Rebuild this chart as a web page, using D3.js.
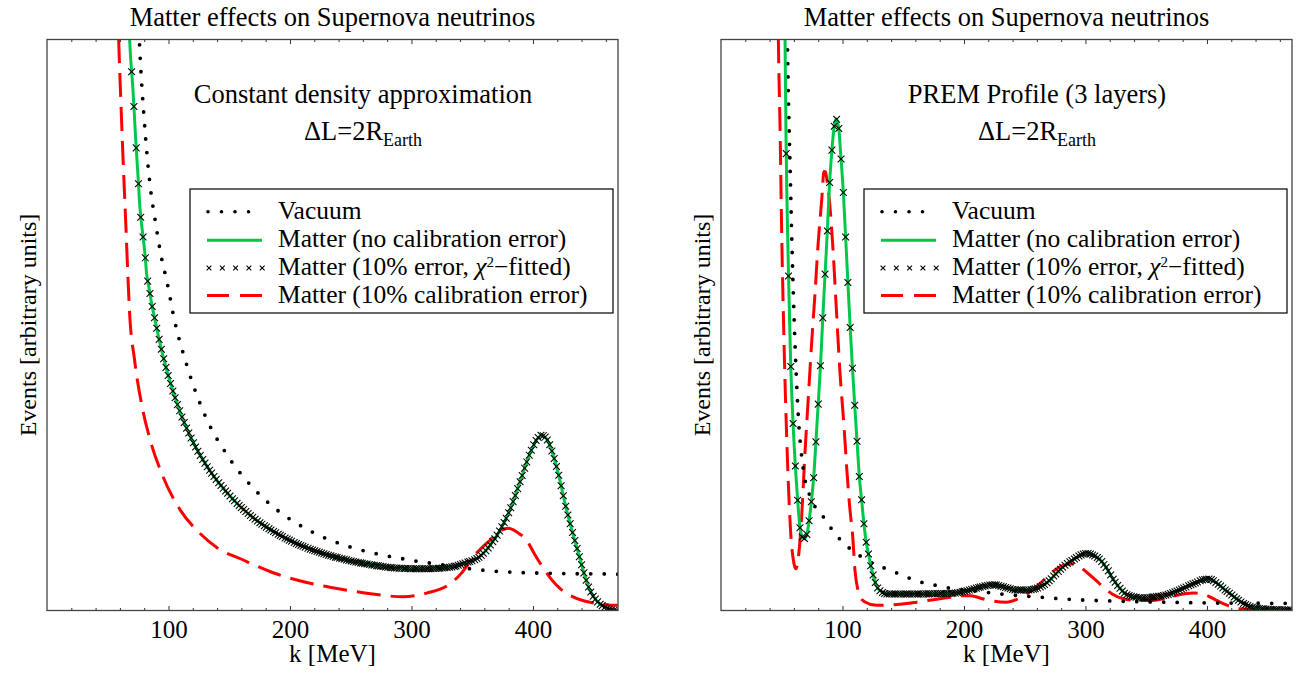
<!DOCTYPE html>
<html lang="en">
<head>
<meta charset="utf-8">
<title>Matter effects on Supernova neutrinos</title>
<script src="https://cdn.jsdelivr.net/npm/d3@7"></script>
<style>
  body { margin: 0; background: #fff; }
  svg text { font-family: "Liberation Serif", "Times New Roman", serif; fill: #000; }
</style>
</head>
<body>
<div id="chart"></div>
<script>
// values: [k in MeV, events in arbitrary units]
const titleText = "Matter effects on Supernova neutrinos";
const xLabel = "k [MeV]";
const yLabel = "Events [arbitrary units]";
const kTicks = [100, 200, 300, 400];
const kMinorTicks = [20, 40, 60, 80, 120, 140, 160, 180, 220, 240, 260, 280, 320, 340, 360, 380, 420, 440, 460];
const legendNames = ["Vacuum", "Matter (no calibration error)", "Matter (10% error, \u03c7\u00b2\u2212fitted)", "Matter (10% calibration error)"];

const leftVacuum = [[73,118],[76,100],[80,86],[85,74.2],[89,68.4],[93.5,62.6],[99.6,56.7],[104,51.8],[115,43],[130,34.2],[150,26.7],[170,21.4],[190,17.5],[210,14.7],[230,12.6],[250,11.1],[270,10],[297,8.9],[308,8.5],[319,8.2],[329,7.9],[345,7.4],[362,7],[384,6.7],[406,6.55],[428,6.45],[459,6.4],[470,6.35]];
const leftMatter = [[64,125],[66,112],[68,100],[70.9,90.7],[73,82.5],[75,75.8],[76.5,70.5],[78.7,66.1],[80.7,62.3],[82,59],[84,56.5],[86,53.9],[88,51.8],[95,45],[100,41],[110,34.5],[120,29.6],[135,24.2],[150,20.2],[170,16.2],[190,13.4],[210,11.3],[230,9.8],[250,8.7],[270,7.9],[290,7.4],[310,7.3],[332,7.6],[345,8.4],[356,9.4],[365,11.5],[373,14.1],[381,17.6],[389,22.3],[397.5,27.5],[403,29.9],[407,30.7],[412,29.8],[419.5,25.1],[427.8,17.5],[436,11.1],[447,3.5],[452,1.8],[460,0.5],[467,0],[470,0]];
const leftCalib = [[57.5,112],[59,100],[61,88],[63,77],[65,67],[66.5,59],[68,52.1],[72,44],[78,36],[85,29.8],[95,23.7],[110,17.5],[125,13.7],[140,11],[162,8.8],[185,6.7],[212,5],[240,3.8],[268,2.9],[293,2.4],[312.5,3.05],[332,4.7],[341,6.5],[350.6,9.35],[358,11],[364.6,12.3],[372,13.8],[379.7,14.4],[387,13.7],[394.8,12.3],[401,10],[408,7.6],[415,5.5],[422,3.9],[431,2.6],[441,1.75],[448,1.4],[458,1.1],[466,0.9],[470,0.9]];

const rightVacuum = [[54,110],[54.6,100.4],[56.8,78.2],[59,59.4],[60.9,46.8],[63.6,34.2],[67.7,24.8],[73.3,20],[83,16.8],[93.8,13.5],[103.5,11.3],[110.3,10.2],[120,8.8],[130,7.8],[139,7.1],[148.7,6.2],[160,5.3],[169,4.7],[180,4.3],[191,3.8],[202,3.6],[230,2.9],[265,2.3],[287,1.95],[309,1.75],[353,1.5],[417,1.3],[470,1.25]];
const rightMatter = [[51.8,115],[52.7,100.4],[53.5,83.2],[55.4,60.3],[57.3,43.7],[59.5,32],[61.7,23.6],[63.6,17.9],[65,14.5],[66.6,13],[68.3,12.6],[70.5,13.2],[72.7,16],[74.6,19.5],[76.5,23.9],[78.2,29.8],[80,36.1],[82,43.3],[83.7,50.9],[85.6,58.7],[87.5,66.3],[89.1,73.8],[91.1,80.1],[93,84.5],[94.7,86.1],[96.9,84.5],[98.5,80],[100.7,73.2],[102.6,65.3],[104.5,57.2],[106.4,49.3],[108.4,41.8],[110.3,35.2],[112.2,28.9],[113.8,23.6],[116,18.8],[117.7,15.1],[119.5,12],[121.5,9.8],[123.5,7.6],[125.5,6],[128,4.3],[132,3.3],[137,2.9],[160,2.9],[190,3],[205,3.6],[215,4.2],[224,4.5],[235,4],[243,3.6],[252,3.6],[260,3.9],[268,4.8],[276,6.5],[283,7.9],[290,8.9],[295,9.6],[301,10],[307,9.6],[312,8.9],[318,7.2],[323,5.4],[328,4],[334,2.75],[347.6,2.2],[357,2.4],[366.8,2.75],[380.5,3.9],[390,4.8],[397,5.4],[402,5.5],[408,4.8],[415,3.6],[421.7,2.5],[428,1.5],[435.4,0.7],[442,0.4],[449,0.25],[460,0.12],[470,0.1]];
const rightCalib = [[46.6,112],[47.2,100.4],[48.6,84.5],[50,65.6],[51.9,46.8],[54.6,27],[57.4,13.5],[60,8.3],[61.7,7.3],[63.5,9],[66.4,16.5],[69.1,27.5],[71.9,37.4],[74.6,46.8],[77.4,55.6],[80,64.4],[82.9,71.9],[84.8,76.9],[86,76.8],[87,75.7],[89.7,70.7],[92.4,62.5],[95.2,51.8],[97.9,41.8],[101.2,32.4],[103.8,24],[106,18],[108.4,13],[110.3,7],[112.5,3.8],[115,2.2],[118.5,1.5],[128,0.9],[145,1.05],[161,1.46],[175,1.9],[188.5,2.3],[198,2.6],[205,2.6],[213,2.2],[221,1.75],[235,1.46],[243,1.9],[251.6,2.9],[262,4.6],[270.8,6.4],[281.7,7.9],[290,8.2],[295,7.7],[301,6.7],[308,5.4],[314.6,4.1],[322,2.9],[331,2.05],[340,1.8],[353,1.75],[365,2.1],[380.5,2.9],[390,3.05],[397,2.9],[404,2.2],[410.7,1.46],[418,0.8],[427,0.3],[440,0.2],[470,0.2]];

const fitStep = 1.88; // spacing of the chi^2-fitted crosses along k

const W = 1296, H = 673;
const frameTop = 39.5, frameBottom = 610.5;
const kDomain = [0, 470];
const yDomain = [0, 100];
const green = "#00c84b", red = "#ff0000";
const serif = '"Liberation Serif", "Times New Roman", serif';

const panels = [
  { left: 47, right: 618, note: "Constant density approximation", noteX: 363, legendX: 190,
    vacuum: leftVacuum, matter: leftMatter, calib: leftCalib },
  { left: 721, right: 1292, note: "PREM Profile (3 layers)", noteX: 1037, legendX: 864,
    vacuum: rightVacuum, matter: rightMatter, calib: rightCalib }
];

const svg = d3.select('#chart')
  .append('svg')
  .attr('width', W)
  .attr('height', H)
  .attr('font-family', serif)
  .style('background-color', 'white');

const crossPath = "M-3.4,-3.4L3.4,3.4M-3.4,3.4L3.4,-3.4";

function crossesOnPath(node, xs) {
  const len = node.getTotalLength();
  const pts = [];
  for (let l = 0; l <= len; l += 0.6) pts.push(node.getPointAtLength(l));
  const bis = d3.bisector(d => d.x).left;
  return xs.map(px => pts[Math.min(bis(pts, px), pts.length - 1)]);
}

panels.forEach((p, i) => {
  const x = d3.scaleLinear().domain(kDomain).range([p.left, p.right]);
  const y = d3.scaleLinear().domain(yDomain).range([frameBottom, frameTop]);
  const g = svg.append('g');

  svg.append('clipPath').attr('id', 'clip' + i)
    .append('rect')
    .attr('x', p.left).attr('y', frameTop)
    .attr('width', p.right - p.left).attr('height', frameBottom - frameTop);

  const line = d3.line()
    .x(d => x(d[0]))
    .y(d => y(d[1]))
    .curve(d3.curveMonotoneX);

  const plot = g.append('g').attr('clip-path', `url(#clip${i})`);

  plot.append('path').datum(p.calib)
    .attr('d', line).attr('fill', 'none')
    .attr('stroke', red).attr('stroke-width', 3)
    .attr('stroke-dasharray', '24,10');

  plot.append('path').datum(p.vacuum)
    .attr('d', line).attr('fill', 'none')
    .attr('stroke', '#000').attr('stroke-width', 3.8)
    .attr('stroke-linecap', 'round')
    .attr('stroke-dasharray', '0,13.5');

  const gPath = plot.append('path').datum(p.matter)
    .attr('d', line).attr('fill', 'none')
    .attr('stroke', green).attr('stroke-width', 3);

  const fitK = d3.range(p.matter[0][0], kDomain[1], fitStep);
  const pts = crossesOnPath(gPath.node(), fitK.map(k => x(k)));
  plot.append('g').selectAll('path')
    .data(pts).enter().append('path')
    .attr('d', crossPath)
    .attr('transform', d => `translate(${d.x},${d.y})`)
    .attr('stroke', '#000').attr('stroke-width', 1.05).attr('fill', 'none');

  // axes: ticks only on the bottom and top edges, pointing inward
  const bottom = g.append('g')
    .attr('transform', `translate(0,${frameBottom})`)
    .call(d3.axisBottom(x).tickValues(kTicks).tickSizeInner(-4.5).tickSizeOuter(0));
  bottom.selectAll('text')
    .attr('y', 27.5).attr('dy', null)
    .attr('font-size', 25).attr('font-family', serif);
  g.append('g')
    .attr('transform', `translate(0,${frameBottom})`)
    .call(d3.axisBottom(x).tickValues(kMinorTicks).tickSizeInner(-2.5).tickSizeOuter(0).tickFormat(''));
  g.append('g')
    .attr('transform', `translate(0,${frameTop})`)
    .call(d3.axisTop(x).tickValues(kTicks).tickSizeInner(-4.5).tickSizeOuter(0).tickFormat(''));
  g.append('g')
    .attr('transform', `translate(0,${frameTop})`)
    .call(d3.axisTop(x).tickValues(kMinorTicks).tickSizeInner(-2.5).tickSizeOuter(0).tickFormat(''));
  g.selectAll('.domain').remove();
  g.selectAll('.tick line').attr('stroke', '#333').attr('stroke-width', 1);

  g.append('rect')
    .attr('x', p.left).attr('y', frameTop)
    .attr('width', p.right - p.left).attr('height', frameBottom - frameTop)
    .attr('fill', 'none').attr('stroke', '#444').attr('stroke-width', 1.3);

  // titles and labels
  g.append('text')
    .attr('x', (p.left + p.right) / 2).attr('y', 26)
    .attr('text-anchor', 'middle').attr('font-size', 26.5)
    .text(titleText);
  g.append('text')
    .attr('x', (p.left + p.right) / 2).attr('y', 662)
    .attr('text-anchor', 'middle').attr('font-size', 25)
    .text(xLabel);
  g.append('text')
    .attr('transform', `translate(${p.left - 11},${(frameTop + frameBottom) / 2}) rotate(-90)`)
    .attr('text-anchor', 'middle').attr('font-size', 24)
    .text(yLabel);

  g.append('text')
    .attr('x', p.noteX).attr('y', 103)
    .attr('text-anchor', 'middle').attr('font-size', 26.5)
    .text(p.note);
  const dl = g.append('text')
    .attr('x', p.noteX).attr('y', 140)
    .attr('text-anchor', 'middle').attr('font-size', 26.5);
  dl.append('tspan').text('\u0394L=2R');
  dl.append('tspan').attr('font-size', 18).attr('dy', 6).text('Earth');

  // legend
  const lg = g.append('g').attr('transform', `translate(${p.legendX},189)`);
  lg.append('rect')
    .attr('width', 423).attr('height', 124)
    .attr('fill', '#fff').attr('stroke', '#000').attr('stroke-width', 1.2);
  const rows = [22.7, 51.3, 79, 106.5];
  const s0 = 17, s1 = 72;
  lg.append('line').attr('x1', s0 + 1).attr('x2', s1).attr('y1', rows[0]).attr('y2', rows[0])
    .attr('stroke', '#000').attr('stroke-width', 3.6).attr('stroke-linecap', 'round')
    .attr('stroke-dasharray', '0,13.5');
  lg.append('line').attr('x1', s0).attr('x2', s1).attr('y1', rows[1]).attr('y2', rows[1])
    .attr('stroke', green).attr('stroke-width', 3);
  lg.append('g').selectAll('path')
    .data(d3.range(5)).enter().append('path')
    .attr('d', "M-2.4,-2.4L2.4,2.4M-2.4,2.4L2.4,-2.4")
    .attr('transform', j => `translate(${s0 + 2 + j * 13.3},${rows[2]})`)
    .attr('stroke', '#000').attr('stroke-width', 1.1);
  lg.append('line').attr('x1', s0).attr('x2', s1).attr('y1', rows[3]).attr('y2', rows[3])
    .attr('stroke', red).attr('stroke-width', 3).attr('stroke-dasharray', '22,11');

  legendNames.forEach((name, j) => {
    const t = lg.append('text')
      .attr('x', 88).attr('y', rows[j] + 7)
      .attr('font-size', 25.5);
    if (j === 2) {
      t.append('tspan').text('Matter (10% error, ');
      t.append('tspan').attr('font-style', 'italic').text('\u03c7');
      t.append('tspan').attr('font-size', 15).attr('dy', -8).text('2');
      t.append('tspan').attr('dy', 8).text('\u2212fitted)');
    } else {
      t.text(name);
    }
  });
});
</script>
</body>
</html>
